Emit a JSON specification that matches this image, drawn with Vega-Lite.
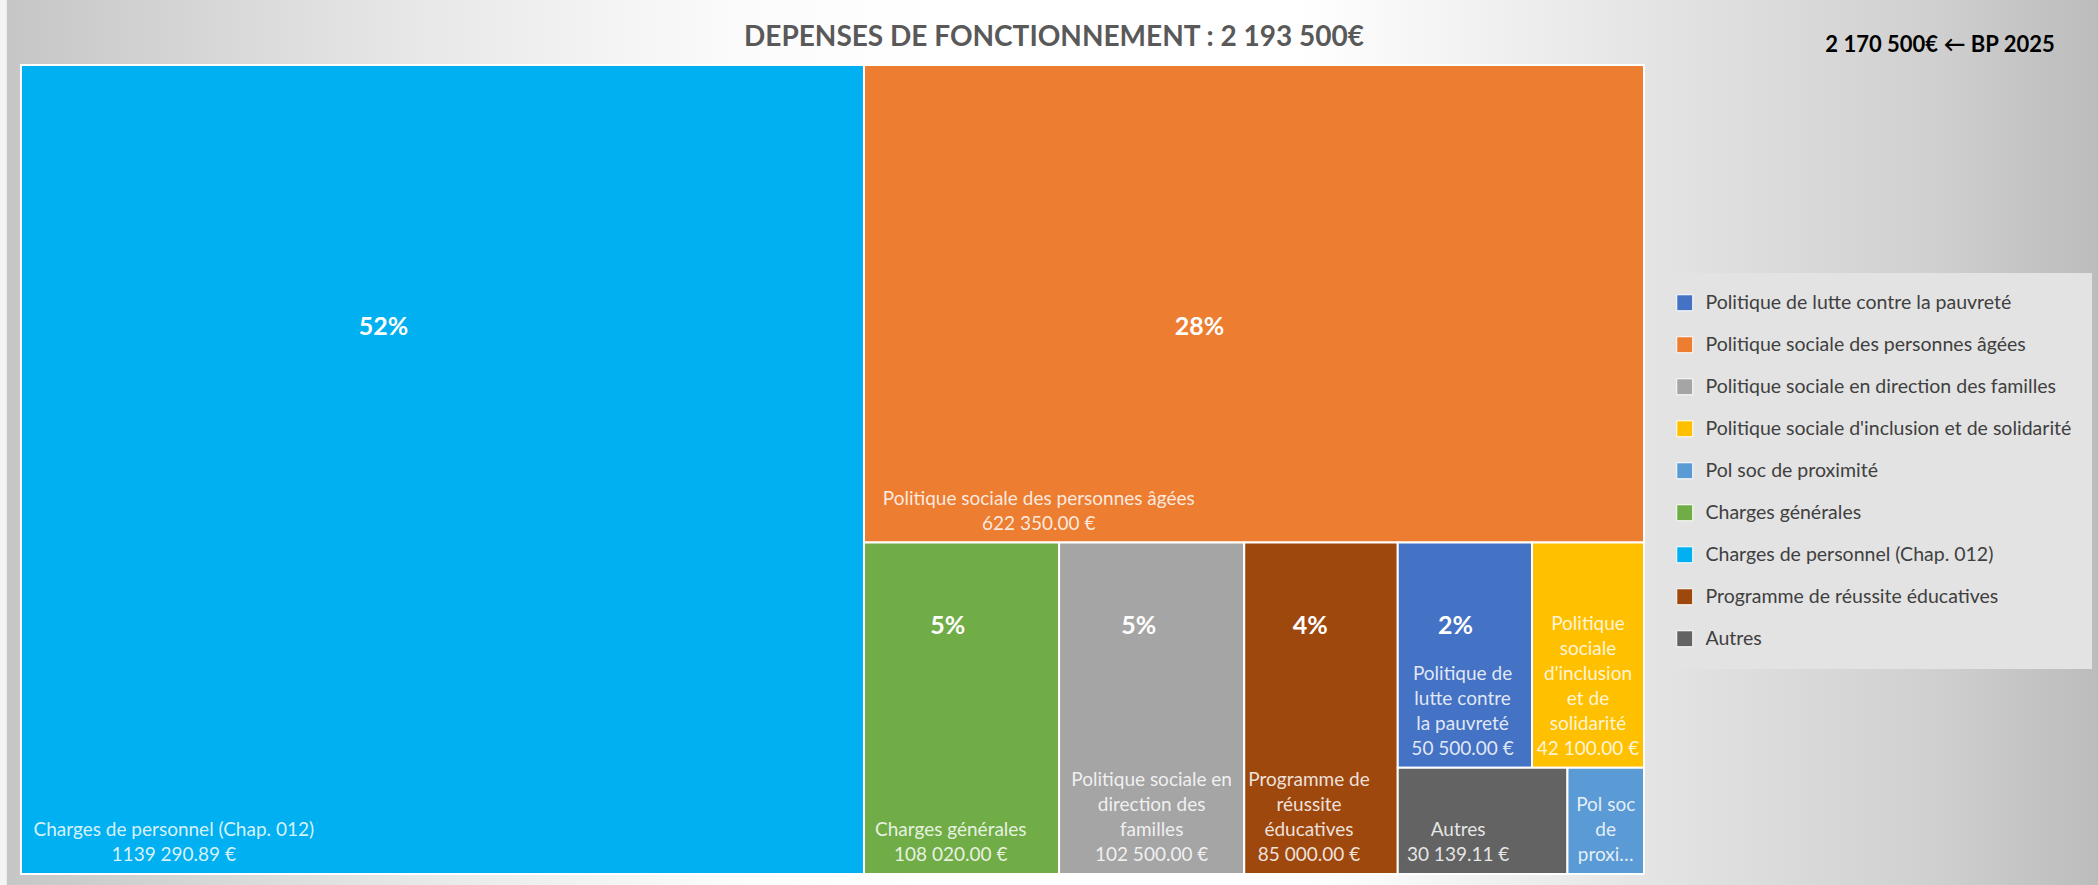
{
  "$schema": "https://vega.github.io/schema/vega-lite/v6.json",
  "width": 2098,
  "height": 885,
  "padding": 0,
  "autosize": {"type": "none"},
  "background": "#ffffff",
  "config": {
    "view": {"stroke": null},
    "font": "Lato",
    "axis": {"disable": true},
    "locale": {
      "number": {"decimal": ".", "thousands": " ", "grouping": [3, 9], "currency": ["", " €"]}
    }
  },
  "title": {
    "text": "DEPENSES DE FONCTIONNEMENT : 2 193 500€",
    "anchor": "middle",
    "font": "Lato",
    "fontSize": 28,
    "fontWeight": "bold",
    "color": "#595959",
    "offset": -30,
    "baseline": "middle",
    "dy": 36,
    "dx": 5
  },
  "layer": [
    {
      "data": {"values": [{}]},
      "mark": {
        "type": "rect",
        "fill": {
          "gradient": "linear",
          "x1": 0, "y1": 0, "x2": 1, "y2": 0,
          "stops": [
            {"offset": 0, "color": "#f4f4f4"},
            {"offset": 0.003, "color": "#f4f4f4"},
            {"offset": 0.0035, "color": "#c6c6c6"},
            {"offset": 0.06, "color": "#d0d0d0"},
            {"offset": 0.2, "color": "#e8e8e8"},
            {"offset": 0.35, "color": "#fbfbfb"},
            {"offset": 0.45, "color": "#ffffff"},
            {"offset": 0.62, "color": "#ffffff"},
            {"offset": 0.8, "color": "#e2e2e2"},
            {"offset": 0.92, "color": "#d0d0d0"},
            {"offset": 1, "color": "#bcbcbc"}
          ]
        }
      },
      "encoding": {}
    },
    {
      "data": {"values": [{"texte": "2 170 500€ ← BP 2025"}]},
      "mark": {"type": "text", "font": "Lato", "fontSize": 22, "fontWeight": "bold", "color": "#000000", "baseline": "middle", "align": "center"},
      "encoding": {
        "x": {"datum": 1.1824, "type": "quantitative", "axis": null},
        "y": {"datum": -0.0247, "type": "quantitative", "axis": null},
        "text": {"field": "texte"}
      }
    },
    {
      "data": {
        "values": [
          {"poste": "Charges de personnel (Chap. 012)", "valeur": 1139290.89, "bloc": "1", "zone": "1", "col": "1", "ligne": "1", "ordre": 1, "etiquette": "Charges de personnel (Chap. 012)"},
          {"poste": "Politique sociale des personnes âgées", "valeur": 622350, "bloc": "2", "zone": "1", "col": "1", "ligne": "1", "ordre": 1, "etiquette": "Politique sociale des personnes âgées"},
          {"poste": "Charges générales", "valeur": 108020, "bloc": "2", "zone": "2", "col": "1", "ligne": "1", "ordre": 1, "etiquette": "Charges générales"},
          {"poste": "Politique sociale en direction des familles", "valeur": 102500, "bloc": "2", "zone": "2", "col": "2", "ligne": "1", "ordre": 1, "etiquette": "Politique sociale en\ndirection des\nfamilles"},
          {"poste": "Programme de réussite éducatives", "valeur": 85000, "bloc": "2", "zone": "2", "col": "3", "ligne": "1", "ordre": 1, "etiquette": "Programme de\nréussite\néducatives"},
          {"poste": "Politique de lutte contre la pauvreté", "valeur": 50500, "bloc": "2", "zone": "2", "col": "4", "ligne": "1", "ordre": 1, "etiquette": "Politique de\nlutte contre\nla pauvreté"},
          {"poste": "Politique sociale d'inclusion et de solidarité", "valeur": 42100, "bloc": "2", "zone": "2", "col": "4", "ligne": "1", "ordre": 2, "etiquette": "Politique\nsociale\nd'inclusion\net de\nsolidarité"},
          {"poste": "Autres", "valeur": 30139.11, "bloc": "2", "zone": "2", "col": "4", "ligne": "2", "ordre": 1, "etiquette": "Autres"},
          {"poste": "Pol soc de proximité", "valeur": 13600, "bloc": "2", "zone": "2", "col": "4", "ligne": "2", "ordre": 2, "etiquette": "Pol soc\nde\nproxi…"}
        ]
      },
      "transform": [
        {"joinaggregate": [{"op": "sum", "field": "valeur", "as": "total"}]},
        {"calculate": "datum.valeur / datum.total", "as": "part"},
        {"stack": "valeur", "groupby": [], "sort": [{"field": "bloc"}, {"field": "zone"}, {"field": "col"}, {"field": "ligne"}, {"field": "ordre"}], "offset": "normalize", "as": ["a0", "a1"]},
        {"joinaggregate": [{"op": "min", "field": "a0", "as": "fx0"}, {"op": "max", "field": "a1", "as": "fx1"}], "groupby": ["bloc"]},
        {"stack": "valeur", "groupby": ["bloc"], "sort": [{"field": "zone"}, {"field": "col"}, {"field": "ligne"}, {"field": "ordre"}], "offset": "normalize", "as": ["b0", "b1"]},
        {"joinaggregate": [{"op": "min", "field": "b0", "as": "fy0"}, {"op": "max", "field": "b1", "as": "fy1"}], "groupby": ["bloc", "zone"]},
        {"stack": "valeur", "groupby": ["bloc", "zone"], "sort": [{"field": "col"}, {"field": "ligne"}, {"field": "ordre"}], "offset": "normalize", "as": ["c0", "c1"]},
        {"joinaggregate": [{"op": "min", "field": "c0", "as": "gx0"}, {"op": "max", "field": "c1", "as": "gx1"}], "groupby": ["bloc", "zone", "col"]},
        {"stack": "valeur", "groupby": ["bloc", "zone", "col"], "sort": [{"field": "ligne"}, {"field": "ordre"}], "offset": "normalize", "as": ["d0", "d1"]},
        {"joinaggregate": [{"op": "min", "field": "d0", "as": "gy0"}, {"op": "max", "field": "d1", "as": "gy1"}], "groupby": ["bloc", "zone", "col", "ligne"]},
        {"stack": "valeur", "groupby": ["bloc", "zone", "col", "ligne"], "sort": [{"field": "ordre"}], "offset": "normalize", "as": ["e0", "e1"]},
        {"calculate": "datum.gx0 + (datum.gx1 - datum.gx0) * datum.e0", "as": "u0"},
        {"calculate": "datum.gx0 + (datum.gx1 - datum.gx0) * datum.e1", "as": "u1"},
        {"calculate": "datum.fx0 + (datum.fx1 - datum.fx0) * datum.u0", "as": "x0"},
        {"calculate": "datum.fx0 + (datum.fx1 - datum.fx0) * datum.u1", "as": "x1"},
        {"calculate": "datum.fy0 + (datum.fy1 - datum.fy0) * datum.gy0", "as": "y0"},
        {"calculate": "datum.fy0 + (datum.fy1 - datum.fy0) * datum.gy1", "as": "y1"},
        {"calculate": "format(datum.valeur, '$,.2f')", "as": "montant"},
        {"calculate": "datum.part >= 0.01 ? datum.etiquette + '\\n' + datum.montant : datum.etiquette", "as": "texte"},
        {"calculate": "length(split(datum.texte, '\\n'))", "as": "nlignes"},
        {"calculate": "datum.y1 - (datum.nlignes - 1) * 25 / 809", "as": "ylab"},
        {"calculate": "max(length(split(datum.etiquette, '\\n')[0]), datum.part >= 0.01 ? length(datum.montant) : 0)", "as": "nmax"},
        {"calculate": "min((datum.x0 + datum.x1) / 2, datum.x0 + (12 + 4.4 * datum.nmax) / 1623)", "as": "xl"},
        {"calculate": "datum.x0 + 0.43 * (datum.x1 - datum.x0)", "as": "xp"}
      ],
      "layer": [
        {
          "mark": {"type": "rect", "stroke": "#ffffff", "strokeWidth": 2},
          "encoding": {
            "x": {"field": "x0", "type": "quantitative", "scale": {"domain": [0, 1], "range": [21, 1644], "nice": false, "zero": false}, "axis": null},
            "x2": {"field": "x1"},
            "y": {"field": "y0", "type": "quantitative", "scale": {"domain": [0, 1], "range": [65, 874], "nice": false, "zero": false}, "axis": null},
            "y2": {"field": "y1"},
            "color": {
              "field": "poste",
              "type": "nominal",
              "scale": {
                "domain": ["Politique de lutte contre la pauvreté", "Politique sociale des personnes âgées", "Politique sociale en direction des familles", "Politique sociale d'inclusion et de solidarité", "Pol soc de proximité", "Charges générales", "Charges de personnel (Chap. 012)", "Programme de réussite éducatives", "Autres"],
                "range": ["#4472C4", "#ED7D31", "#A5A5A5", "#FFC000", "#5B9BD5", "#70AD47", "#00B0F0", "#9E480E", "#636363"]
              },
              "legend": {
                "orient": "none",
                "legendX": 1655,
                "legendY": 273,
                "title": null,
                "symbolType": "square",
                "symbolSize": 256,
                "symbolStrokeColor": "#ffffff",
                "symbolStrokeWidth": 1,
                "symbolOpacity": 1,
                "labelFont": "Lato",
                "labelFontSize": 19.5,
                "labelColor": "#404040",
                "labelOffset": 11,
                "labelLimit": 600,
                "rowPadding": 21,
                "padding": 20,
                "fillColor": "#e3e3e3"
              }
            }
          }
        },
        {
          "mark": {"type": "text", "font": "Lato", "fontSize": 19, "lineHeight": 25, "lineBreak": "\n", "align": "center", "baseline": "bottom", "dy": -9, "fill": "#ffffff", "fillOpacity": 0.85},
          "encoding": {
            "x": {"field": "xl", "type": "quantitative", "axis": null},
            "y": {"field": "ylab", "type": "quantitative", "axis": null},
            "text": {"field": "texte"}
          }
        },
        {
          "transform": [{"filter": "datum.y0 < 0.001"}],
          "mark": {"type": "text", "font": "Lato", "fontSize": 25, "fontWeight": "bold", "align": "center", "baseline": "middle", "dy": 262, "fill": "#ffffff"},
          "encoding": {
            "x": {"field": "xp", "type": "quantitative", "axis": null},
            "y": {"field": "y0", "type": "quantitative", "axis": null},
            "text": {"field": "part", "format": ".0%"}
          }
        },
        {
          "transform": [{"filter": "datum.y0 >= 0.001 && datum.part >= 0.02"}],
          "mark": {"type": "text", "font": "Lato", "fontSize": 25, "fontWeight": "bold", "align": "center", "baseline": "middle", "dy": 83, "fill": "#ffffff"},
          "encoding": {
            "x": {"field": "xp", "type": "quantitative", "axis": null},
            "y": {"field": "y0", "type": "quantitative", "axis": null},
            "text": {"field": "part", "format": ".0%"}
          }
        }
      ]
    }
  ]
}
